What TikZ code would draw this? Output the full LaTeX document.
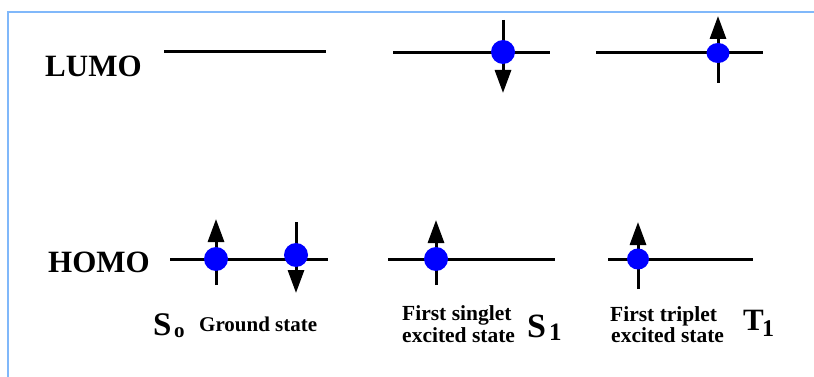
\documentclass[tikz,border=0pt]{standalone}
\usepackage{fontspec}
\setmainfont{Liberation Serif}
\usetikzlibrary{arrows.meta,shapes.geometric}
\definecolor{framecol}{RGB}{128,184,250}
\definecolor{elec}{RGB}{0,0,255}
\tikzset{
  level/.style={line width=3pt},
  spin/.style={line width=3pt,-{Triangle[width=16pt,length=23pt]}},
  electron/.style={circle,fill=elec,inner sep=0pt,minimum size=24pt},
  electronT/.style={ellipse,fill=elec,inner sep=0pt,minimum width=23pt,minimum height=20pt},
  lbl/.style={inner sep=0pt,anchor=base west,font=\bfseries},
}
\begin{document}
\begin{tikzpicture}[x=1pt,y=-1pt]
\useasboundingbox (0,0) rectangle (814,377);
\fill[white] (0,0) rectangle (814,377);
% frame
\draw[framecol,line width=2pt] (8,377) -- (8,12) -- (814,12);

% orbital labels
\node[lbl,font=\bfseries\fontsize{31}{31}\selectfont] (lumo) at (45,77) {LUMO};
\node[lbl,font=\bfseries\fontsize{31}{31}\selectfont] (homo) at (48,272) {HOMO};

% energy levels
\coordinate (l0a) at (164,52); \coordinate (l0b) at (326,52);
\coordinate (l1a) at (393,53); \coordinate (l1b) at (550,53);
\coordinate (l2a) at (596,53); \coordinate (l2b) at (763,53);
\coordinate (h0a) at (170,259); \coordinate (h0b) at (328,259);
\coordinate (h1a) at (388,259); \coordinate (h1b) at (555,259);
\coordinate (h2a) at (608,259); \coordinate (h2b) at (753,259);
\draw[level] (l0a) -- (l0b);
\draw[level] (l1a) -- (l1b);
\draw[level] (l2a) -- (l2b);
\draw[level] (h0a) -- (h0b);
\draw[level] (h1a) -- (h1b);
\draw[level] (h2a) -- (h2b);

% spins
\coordinate (s1ua) at (503,20);  \coordinate (s1ub) at (503,93);
\coordinate (t1ua) at (718,83);  \coordinate (t1ub) at (718,16);
\coordinate (g1a) at (216,285);  \coordinate (g1b) at (216,219);
\coordinate (g2a) at (296,222);  \coordinate (g2b) at (296,293);
\coordinate (s1ha) at (436,285); \coordinate (s1hb) at (436,220);
\coordinate (t1ha) at (638,289); \coordinate (t1hb) at (638,222);
\draw[spin] (s1ua) -- (s1ub);
\draw[spin] (t1ua) -- (t1ub);
\draw[spin] (g1a) -- (g1b);
\draw[spin] (g2a) -- (g2b);
\draw[spin] (s1ha) -- (s1hb);
\draw[spin] (t1ha) -- (t1hb);

% electrons
\node[electron] (e1) at (503,52) {};
\node[electronT] (e2) at (718,53) {};
\node[electron] (e3) at (216,259) {};
\node[electron] (e4) at (296,255) {};
\node[electron] (e5) at (436,259) {};
\node[electronT,minimum width=22pt,minimum height=21pt] (e6) at (638,259) {};

% state labels
\node[lbl,font=\bfseries\fontsize{33}{33}\selectfont] (s0S) at (153,335) {S};
\node[lbl,font=\bfseries\fontsize{21}{21}\selectfont] (s0o) at (174,337) {o};
\node[lbl,font=\bfseries\fontsize{21}{21}\selectfont] (gs) at (199,331) {Ground state};

\node[lbl,font=\bfseries\fontsize{21.5}{21.5}\selectfont] (fs1) at (402,320) {First singlet};
\node[lbl,font=\bfseries\fontsize{21.5}{21.5}\selectfont] (fs2) at (402,342) {excited state};
\node[lbl,font=\bfseries\fontsize{34}{34}\selectfont] (s1S) at (527,337) {S};
\node[lbl,font=\bfseries\fontsize{25}{25}\selectfont] (s1n) at (549,340) {1};

\node[lbl,font=\bfseries\fontsize{21.5}{21.5}\selectfont] (ft1) at (610,321) {First triplet};
\node[lbl,font=\bfseries\fontsize{21.5}{21.5}\selectfont] (ft2) at (611,342) {excited state};
\node[lbl,font=\bfseries\fontsize{31}{31}\selectfont] (t1T) at (743,330) {T};
\node[lbl,font=\bfseries\fontsize{24}{24}\selectfont] (t1n) at (762,336) {1};
\end{tikzpicture}
\end{document}
